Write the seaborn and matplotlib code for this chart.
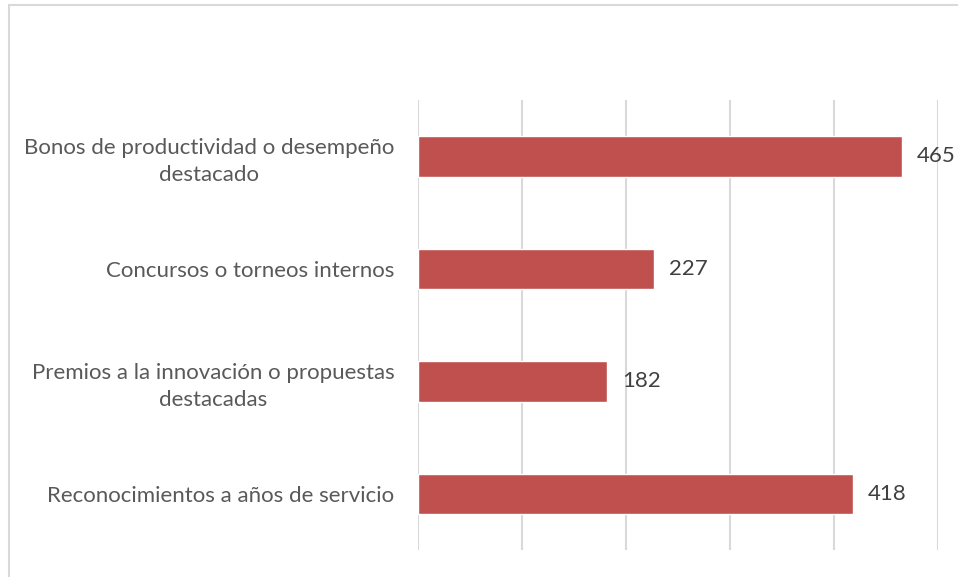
import numpy as np
import pandas as pd
import matplotlib.pyplot as plt
import seaborn as sns
from matplotlib.lines import Line2D

# Data
categories = [
    "Bonos de productividad o desempeño\ndestacado",
    "Concursos o torneos internos",
    "Premios a la innovación o propuestas\ndestacadas",
    "Reconocimientos a años de servicio",
]
values = [465, 227, 182, 418]

df = pd.DataFrame({"categoria": categories, "valor": values})

sns.set_style("white")
plt.rcParams["font.family"] = ["Lato", "DejaVu Sans"]

fig = plt.figure(figsize=(9.58, 5.77), dpi=100)
ax = fig.add_axes([418 / 958, 27 / 577, 520 / 958, 450 / 577])

sns.barplot(data=df, x="valor", y="categoria", color="#C0504D", width=0.36,
            saturation=1, ax=ax, orient="h")

ax.set_xlim(0, 500)
ax.set_ylim(3.5, -0.5)
ax.set_xticks(np.arange(0, 501, 100))
ax.set_xticklabels([])
ax.grid(axis="x", color="#D9D9D9", linewidth=1.5)
ax.set_axisbelow(True)
for s in ax.spines.values():
    s.set_visible(False)
ax.tick_params(axis="both", length=0)
ax.set_xlabel("")
ax.set_ylabel("")
for lbl in ax.get_yticklabels():
    lbl.set_fontsize(16)
    lbl.set_color("#595959")
    lbl.set_multialignment("center")
    lbl.set_linespacing(1.4)
ax.tick_params(axis="y", pad=17)

for i, v in enumerate(values):
    ax.annotate(str(v), (v, i), xytext=(11, 0), textcoords="offset points",
                va="center", ha="left", fontsize=16, color="#404040")

# figure border (left and top visible)
fig.add_artist(Line2D([8.5 / 958, 8.5 / 958], [0, 1 - 4.5 / 577], transform=fig.transFigure,
                      color="#D9D9D9", linewidth=1.5))
fig.add_artist(Line2D([8.5 / 958, 1], [1 - 4.5 / 577, 1 - 4.5 / 577], transform=fig.transFigure,
                      color="#D9D9D9", linewidth=1.5))

fig.savefig("out.png", dpi=100)
